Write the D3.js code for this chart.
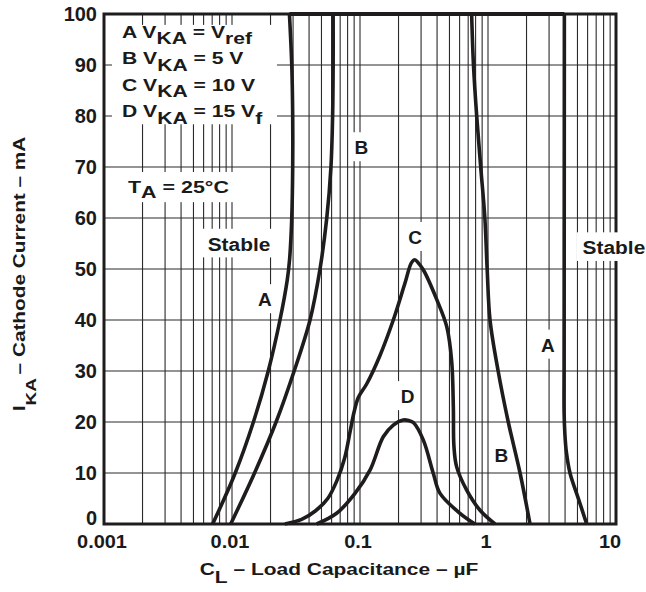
<!DOCTYPE html>
<html>
<head>
<meta charset="utf-8">
<script src="https://cdn.jsdelivr.net/npm/d3@7"></script>
<style>
  body { margin: 0; background: #fff; }
  svg { display: block; }
  text { font-family: "Liberation Sans", Arial, Helvetica, sans-serif; font-weight: bold; fill: #1a1a1a; }
</style>
</head>
<body>
<svg id="chart" width="646" height="592"></svg>
<script>
// capacitance in uF, cathode current in mA
const xTickValues = [0.001, 0.01, 0.1, 1, 10];
const xTickLabels = ["0.001", "0.01", "0.1", "1", "10"];
const yTickValues = [0, 10, 20, 30, 40, 50, 60, 70, 80, 90, 100];

const curveALeft = [[0.00706, 0], [0.0106, 10], [0.0147, 20], [0.0192, 30], [0.0237, 40], [0.0270, 47.8],
    [0.0282, 52], [0.0293, 60], [0.0298, 70], [0.0298, 80], [0.0293, 90], [0.0281, 100]];
const curveARight = [[3.95, 100], [3.94, 60], [3.93, 30], [3.93, 22], [3.99, 17.5], [4.1, 14],
    [4.37, 10], [5.08, 5], [5.9, 0]];
const curveBLeft = [[0.00977, 0], [0.0150, 10], [0.0221, 20], [0.0306, 30], [0.0407, 40], [0.0487, 50],
    [0.055, 60], [0.0593, 70], [0.0611, 80], [0.0617, 90], [0.0617, 100]];
const curveBRight = [[0.745, 100], [0.77, 90], [0.816, 80], [0.877, 70], [0.945, 60], [0.985, 50],
    [1.037, 40], [1.2, 30], [1.44, 20], [1.78, 10], [2.13, 0]];
const curveC = [[0.0259, 0], [0.035, 0.9], [0.045, 2.6], [0.056, 5], [0.066, 8.5], [0.076, 13],
    [0.0835, 18], [0.09, 22], [0.097, 24.8], [0.113, 27.5], [0.143, 33], [0.182, 40], [0.225, 47.3],
    [0.252, 51.2], [0.268, 51.8], [0.285, 51.2], [0.313, 49.8], [0.398, 44], [0.476, 38.7], [0.52, 32],
    [0.536, 23], [0.542, 15.2], [0.569, 11.2], [0.68, 6.7], [0.866, 2.7], [1.135, 0]];
const curveD = [[0.0459, 0], [0.0657, 2.1], [0.0914, 6], [0.12, 10.6], [0.152, 17.1], [0.182, 19.4],
    [0.218, 20.4], [0.24, 20.3], [0.261, 19.9], [0.312, 16.5], [0.374, 9.9], [0.422, 6], [0.604, 2.1],
    [0.791, 0]];

// label text with anchor in data units (uF, mA at baseline)
const curveLabels = [["A", 0.0181, 42.7], ["B", 0.1027, 72.5], ["C", 0.269, 54.9], ["D", 0.235, 23.7],
    ["A", 2.94, 33.8], ["B", 1.274, 12.2]];
const stableLabels = [["Stable", 0.01134, 53.6], ["Stable", 9.64, 52.9]];
const legendLines = [
    [["A V"], ["KA", 1], [" = V"], ["ref", 1]],
    [["B V"], ["KA", 1], [" = 5 V"]],
    [["C V"], ["KA", 1], [" = 10 V"]],
    [["D V"], ["KA", 1], [" = 15 V"], ["f", 1]]
];

const svg = d3.select("#chart");
const x = d3.scaleLog().domain([0.001, 10]).range([104, 616]);
const y = d3.scaleLinear().domain([0, 100]).range([524, 14]);
const ink = "#1f1c1d";

const gridLayer = svg.append("g");
const frameLayer = svg.append("g");
const labelLayer = svg.append("g");
const curveLayer = svg.append("g");

gridLayer.selectAll(".vgrid")
    .data(x.ticks())
    .join("line")
    .attr("x1", d => x(d)).attr("x2", d => x(d))
    .attr("y1", y(0)).attr("y2", y(100))
    .attr("stroke", "#2a2a2a").attr("stroke-width", 1.1);

gridLayer.selectAll(".hgrid")
    .data(yTickValues)
    .join("line")
    .attr("x1", x(0.001)).attr("x2", x(10))
    .attr("y1", d => y(d)).attr("y2", d => y(d))
    .attr("stroke", "#2a2a2a").attr("stroke-width", 1.1);

frameLayer.append("rect")
    .attr("x", x(0.001)).attr("y", y(100))
    .attr("width", x(10) - x(0.001)).attr("height", y(0) - y(100))
    .attr("fill", "none").attr("stroke", ink).attr("stroke-width", 3);

const addText = (parent, px, py, parts, o) => {
    const sx = o.sx || 1;
    const g = parent.append("g")
        .attr("transform", `translate(${px},${py})${o.rotate ? " rotate(-90)" : ""} scale(${sx},1)`);
    const t = g.append("text")
        .attr("font-size", o.size)
        .attr("text-anchor", o.anchor || "start");
    let shift = 0;
    parts.forEach(([s, sub], i) => {
        const want = sub ? (o.subShift || 0) : 0;
        const ts = t.append("tspan").attr("dy", want - shift).text(s);
        if (sub && o.subSize) ts.attr("font-size", o.subSize);
        if (i > 0 && !sub && o.gap) ts.attr("dx", o.gap);
        shift = want;
    });
    if (o.box) {
        const [pl, pr, pt, pb] = o.box;
        const b = t.node().getBBox();
        g.insert("rect", "text")
            .attr("x", b.x - pl / sx).attr("y", b.y - pt)
            .attr("width", b.width + (pl + pr) / sx).attr("height", b.height + pt + pb)
            .attr("fill", "#fff");
    }
    return g;
};

// axis tick labels
xTickValues.forEach((v, i) => {
    const nudge = i === xTickValues.length - 1 ? -6 : -2;
    addText(svg, x(v) + nudge, 548, [[xTickLabels[i]]], { size: 19, sx: 1.05, anchor: "middle" });
});
yTickValues.forEach(v => {
    addText(svg, 97, y(v) + (v === 0 ? 1 : 7), [[String(v)]], { size: 20, anchor: "end" });
});

// axis titles
addText(svg, 339, 575, [["C"], ["L", 1], [" – Load Capacitance – µF"]],
    { size: 16.5, sx: 1.27, anchor: "middle", subShift: 8 });
addText(svg, 25, 274, [["I"], ["KA", 1], ["– Cathode Current – mA"]],
    { size: 16.5, sx: 1.26, anchor: "middle", subShift: 11, subSize: 15, gap: 3, rotate: true });

// legend block
const legend = labelLayer.append("g").attr("transform", "translate(122,0) scale(1.28,1)");
const legendBaselines = [37.7, 64.5, 90.8, 117.3];
legendLines.forEach((parts, i) => {
    const t = legend.append("text").attr("y", legendBaselines[i]).attr("font-size", 16.5);
    let shift = 0;
    parts.forEach(([s, sub]) => {
        const want = sub ? 6.5 : 0;
        t.append("tspan").attr("dy", want - shift).text(s);
        shift = want;
    });
});
const lb = legend.node().getBBox();
legend.insert("rect", "text")
    .attr("x", lb.x - 10 / 1.28).attr("y", lb.y + 2)
    .attr("width", lb.width + 24 / 1.28).attr("height", lb.height - 5)
    .attr("fill", "#fff");

addText(labelLayer, 128, 192.7, [["T"], ["A", 1], [" = 25°C"]],
    { size: 16.5, sx: 1.3, subShift: 5, box: [3, 7, 6, 1] });

stableLabels.forEach(([s, c, v]) => {
    addText(labelLayer, x(c), y(v), [[s]], { size: 18.5, sx: 1.13, anchor: "middle", box: [6, 4, 5, 3] });
});
curveLabels.forEach(([s, c, v]) => {
    addText(labelLayer, x(c), y(v), [[s]], { size: 19, anchor: "middle", box: [4, 4, 5, 3] });
});

// curves
const smooth = d3.line()
    .x(d => x(d[0])).y(d => y(d[1]))
    .curve(d3.curveCatmullRom.alpha(0.5));
const straight = d3.line().x(d => x(d[0])).y(d => y(d[1]));

[curveALeft, curveARight, curveBLeft, curveBRight, curveC, curveD].forEach(pts => {
    curveLayer.append("path")
        .attr("d", smooth(pts))
        .attr("fill", "none").attr("stroke", ink)
        .attr("stroke-width", 3.6).attr("stroke-linejoin", "round");
});
curveLayer.append("path")
    .attr("d", straight([curveALeft[curveALeft.length - 1], curveARight[0]]))
    .attr("fill", "none").attr("stroke", ink).attr("stroke-width", 4);
</script>
</body>
</html>
